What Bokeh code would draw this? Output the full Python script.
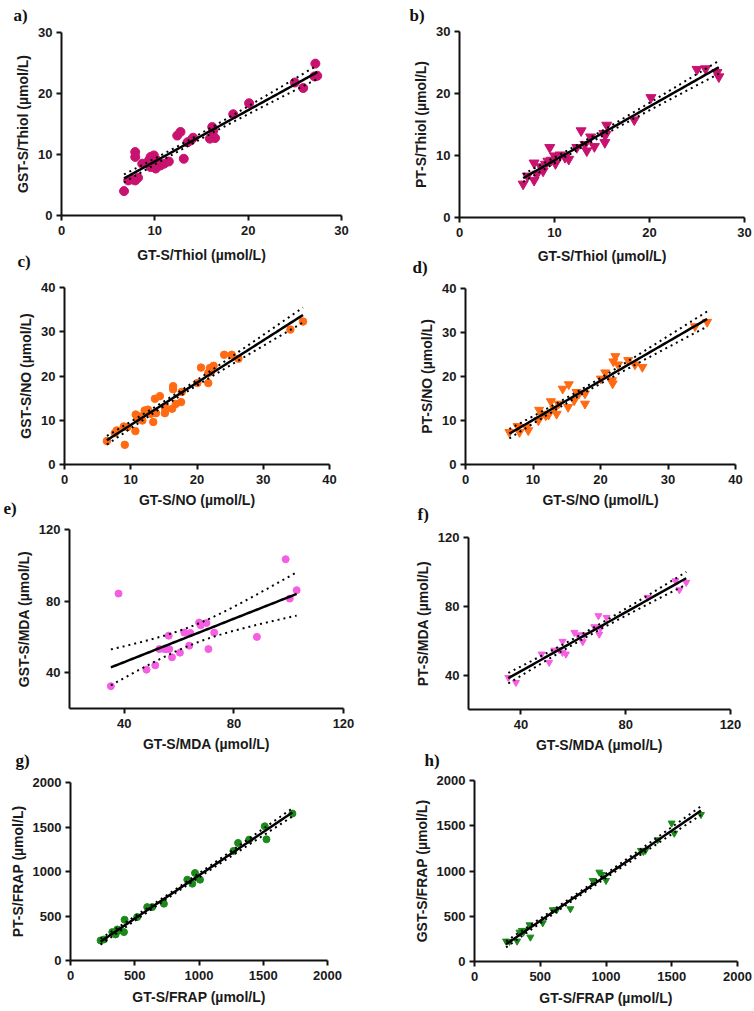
import numpy as np
from bokeh.plotting import figure
from bokeh.layouts import column, row
from bokeh.models import Range1d, FixedTicker, Title
from bokeh.embed import file_html
from bokeh.resources import INLINE

# ---------------- data ----------------
a_x = [6.7, 7.15, 7.6, 7.9, 7.9, 7.9, 8.2, 8.65, 9.2, 9.4, 9.55, 9.55, 9.7, 9.8, 9.9, 10.0, 10.1, 10.26,
       10.6, 11.0, 11.5, 12.4, 12.75, 13.1, 13.5, 13.85, 14.1, 15.9, 16.15, 16.25, 16.45, 18.4, 20.1,
       25.0, 25.9, 27.1, 27.2, 27.4]
a_y = [4.0, 5.75, 5.9, 10.4, 9.6, 5.75, 6.2, 8.5, 8.65, 9.1, 9.6, 7.95, 8.5, 9.1, 9.85, 7.95, 7.7, 9.0,
       8.2, 8.5, 8.85, 13.1, 13.7, 9.3, 12.0, 12.3, 12.75, 12.6, 14.5, 13.85, 12.7, 16.6, 18.4,
       21.8, 20.9, 22.8, 24.9, 22.9]

b_x = [6.7, 7.15, 7.85, 7.85, 8.15, 8.55, 8.8, 9.05, 9.3, 9.5, 9.65, 10.0, 10.1, 10.6, 11.1, 11.5,
       12.35, 12.8, 13.2, 13.4, 13.8, 14.2, 15.2, 15.3, 15.4, 15.5, 18.4, 20.15, 25.0, 25.9, 27.1, 27.3]
b_y = [5.4, 6.7, 6.0, 8.8, 7.0, 8.2, 7.5, 8.6, 9.1, 11.3, 9.25, 9.95, 8.7, 10.1, 9.7, 9.4,
       11.3, 14.0, 11.8, 10.75, 13.0, 11.45, 13.55, 12.1, 13.4, 14.9, 15.75, 19.35, 23.9, 24.0, 23.4, 22.7]

c_x = [6.4, 7.6, 7.9, 9.1, 8.95, 9.5, 10.7, 10.75, 11.0, 11.35, 11.75, 12.1, 12.6, 13.0, 13.4, 13.65,
       13.8, 14.4, 15.15, 15.25, 15.15, 16.25, 16.4, 16.4, 16.8, 17.6, 17.7, 20.05, 20.6, 21.7, 21.7,
       21.95, 22.5, 22.1, 24.1, 25.25, 26.25, 34.1, 36.0]
c_y = [5.3, 7.1, 7.7, 4.45, 8.6, 8.45, 7.55, 11.3, 10.3, 10.85, 9.95, 12.2, 12.4, 11.45, 9.6, 14.85,
       11.6, 15.45, 13.0, 12.2, 11.6, 12.6, 17.7, 17.0, 13.7, 14.1, 16.4, 18.4, 21.9, 18.4, 20.7,
       21.8, 22.3, 20.9, 24.8, 24.8, 23.9, 30.5, 32.3]

d_x = [6.5, 7.7, 8.0, 9.05, 9.3, 10.8, 10.9, 11.4, 11.9, 12.3, 12.65, 13.15, 13.5, 13.8, 14.4, 15.3,
       15.2, 16.1, 16.45, 16.8, 17.7, 17.7, 20.05, 20.7, 21.7, 21.8, 21.9, 22.2, 22.6, 24.1, 25.1,
       26.2, 34.0, 35.8]
d_y = [7.35, 8.7, 7.35, 8.5, 7.75, 10.0, 12.4, 11.5, 11.15, 11.3, 14.35, 12.65, 11.5, 13.8, 17.2, 18.2,
       13.05, 14.55, 16.45, 16.1, 16.1, 13.8, 19.5, 20.9, 19.1, 18.4, 23.4, 24.6, 22.7, 23.7, 22.7,
       22.15, 31.4, 32.4]

e_x = [35.1, 37.9, 48.1, 51.3, 52.8, 54.6, 55.4, 56.2, 56.4, 57.4, 60.3, 61.9, 63.7, 64.1, 67.3, 67.9,
       70.0, 70.7, 72.8, 88.4, 98.9, 100.4, 102.9]
e_y = [32.5, 84.2, 41.7, 44.1, 53.2, 53.2, 53.2, 60.7, 53.2, 48.6, 51.2, 62.4, 55.1, 62.2, 68.0, 66.5,
       67.8, 53.2, 62.4, 60.0, 103.4, 81.4, 86.1]

f_x = [35.2, 38.1, 47.9, 50.8, 52.7, 54.6, 55.9, 55.9, 57.2, 60.4, 61.7, 63.6, 64.2, 68.0, 69.6, 69.9,
       70.3, 72.7, 88.4, 99.0, 100.5, 103.1]
f_y = [38.6, 35.7, 52.2, 47.4, 54.5, 54.7, 59.6, 53.2, 52.2, 64.8, 63.4, 59.4, 63.4, 68.1, 74.5, 63.8,
       67.3, 73.5, 85.2, 94.8, 89.6, 93.9]

g_x = [234, 260, 325, 351, 364, 377, 416, 421, 519, 597, 636, 727, 909, 948, 969, 1008, 1268, 1304,
       1390, 1512, 1525, 1727]
g_y = [225, 236, 319, 293, 349, 338, 319, 458, 488, 600, 600, 638, 908, 863, 983, 908, 1231, 1321,
       1358, 1508, 1362, 1651]

h_x = [240, 266, 324, 342, 360, 372, 380, 418, 425, 519, 595, 625, 729, 899, 949, 967, 1000, 1266,
       1284, 1299, 1392, 1499, 1519, 1722]
h_y = [225, 221, 225, 324, 343, 324, 343, 405, 269, 427, 571, 571, 582, 895, 987, 961, 895, 1227,
       1215, 1227, 1344, 1529, 1418, 1624]

thiol_ticks = [0, 10, 20, 30]
no_ticks = [0, 10, 20, 30, 40]
mda_ticks = [40, 80, 120]
frap_ticks = [0, 500, 1000, 1500, 2000]

x_titles = {"thiol": "GT-S/Thiol (µmol/L)", "no": "GT-S/NO (µmol/L)",
            "mda": "GT-S/MDA (µmol/L)", "frap": "GT-S/FRAP (µmol/L)"}
y_titles = ["GST-S/Thiol (µmol/L)", "PT-S/Thiol (µmol/L)", "GST-S/NO (µmol/L)", "PT-S/NO (µmol/L)",
            "GST-S/MDA (µmol/L)", "PT-S/MDA (µmol/L)", "PT-S/FRAP (µmol/L)", "GST-S/FRAP (µmol/L)"]
panel_letters = ["a)", "b)", "c)", "d)", "e)", "f)", "g)", "h)"]

C_MAG = "#C9126F"
C_ORA = "#FF6A13"
C_PNK = "#F55DE2"
C_GRN = "#1B8A1B"

SANS = "Liberation Sans"
SERIF = "Liberation Serif"
LETTER_PX = 17
LETTER_H = 19          # laid-out height of the letter line
LETTER_MID = 10.9      # glyph centre below the line's top

TICK_OUT, XLAB_SO = 5, 5
TICKLAB_H, AXTITLE_H = 14.5, 15.6


def tcrit(df):
    z = 1.959964
    g1 = (z ** 3 + z) / 4
    g2 = (5 * z ** 5 + 16 * z ** 3 + 3 * z) / 96
    g3 = (3 * z ** 7 + 19 * z ** 5 + 17 * z ** 3 - 15 * z) / 384
    return z + g1 / df + g2 / df ** 2 + g3 / df ** 3


def style_axis(ax, lab_standoff, title_standoff):
    ax.axis_line_width = 2
    ax.axis_line_color = "#111111"
    ax.major_tick_line_width = 2
    ax.major_tick_line_color = "#111111"
    ax.major_tick_out = TICK_OUT
    ax.major_tick_in = 0
    ax.minor_tick_line_color = None
    ax.major_label_text_font = SANS
    ax.major_label_text_font_style = "bold"
    ax.major_label_text_font_size = "13px"
    ax.major_label_text_color = "#1a1a1a"
    ax.axis_label_text_font = SANS
    ax.axis_label_text_font_style = "bold"
    ax.axis_label_text_font_size = "14px"
    ax.axis_label_text_color = "#1a1a1a"
    ax.major_label_standoff = lab_standoff
    ax.axis_label_standoff = title_standoff


def letter_title(text, x_left, fl, standoff, valign):
    return Title(text=text, align="left", vertical_align=valign, offset=x_left - fl,
                 standoff=standoff, text_font=SERIF, text_font_style="bold",
                 text_font_size=f"{LETTER_PX}px", text_color="#111111")


def make_panel(xs, ys, xr, yr, ticks, xtitle, ytitle, marker, color, size,
               cell, frame, x_title_so, top_letter=None, below_letter=None):
    X0, Y0, W, H = cell
    fl, ft, fr, fb = frame
    p = figure(width=W, height=H, x_range=Range1d(*xr), y_range=Range1d(*yr),
               output_backend="svg", toolbar_location=None, title=None,
               min_border_left=fl - X0, min_border_right=X0 + W - fr,
               min_border_top=ft - Y0, min_border_bottom=Y0 + H - fb)
    p.outline_line_color = None
    p.xgrid.grid_line_color = None
    p.ygrid.grid_line_color = None
    p.background_fill_color = "white"
    p.border_fill_color = "white"
    p.xaxis.ticker = FixedTicker(ticks=ticks)
    p.yaxis.ticker = FixedTicker(ticks=ticks)
    p.xaxis.axis_label = xtitle
    p.yaxis.axis_label = ytitle
    style_axis(p.xaxis[0], XLAB_SO, x_title_so)
    style_axis(p.yaxis[0], 4, 4)

    p.scatter(xs, ys, marker=marker, size=size, fill_color=color, line_color=color)

    # linear regression with 95% confidence band
    x = np.asarray(xs, float)
    y = np.asarray(ys, float)
    n = len(x)
    slope, icpt = np.polyfit(x, y, 1)
    xx = np.linspace(x.min(), x.max(), 80)
    yy = icpt + slope * xx
    res = y - (icpt + slope * x)
    s = np.sqrt(np.sum(res ** 2) / (n - 2))
    sxx = np.sum((x - x.mean()) ** 2)
    se = s * np.sqrt(1.0 / n + (xx - x.mean()) ** 2 / sxx)
    t = tcrit(n - 2)
    p.line(xx, yy + t * se, line_color="black", line_width=2, line_dash="2 4")
    p.line(xx, yy - t * se, line_color="black", line_width=2, line_dash="2 4")
    p.line(xx, yy, line_color="black", line_width=2.5)

    # letter of this panel, in the top margin (first row only)
    if top_letter is not None:
        txt, lx = top_letter
        so = max((ft - Y0) - 2 - LETTER_H, 0)
        p.add_layout(letter_title(txt, lx, fl, so, "top"), "above")
    # letter of the panel underneath, drawn beside this panel's x-axis title
    if below_letter is not None:
        txt, lx, cy = below_letter
        axis_bottom = fb + TICK_OUT + XLAB_SO + TICKLAB_H + x_title_so + AXTITLE_H
        so = 2 * ((cy - LETTER_MID) - axis_bottom)
        p.add_layout(letter_title(txt, lx, fl, so, "top"), "below")
    return p


B1, B2, B3, END = 277, 523, 772, 1011
LW, RW = 400, 354

pa = make_panel(a_x, a_y, (0, 30), (0, 30), thiol_ticks, x_titles["thiol"], y_titles[0],
                "circle", C_MAG, 9, (0, 0, LW, B1), (61, 32, 341, 215), 9,
                top_letter=(panel_letters[0], 13), below_letter=(panel_letters[2], 17, 261))
pb = make_panel(b_x, b_y, (0, 30), (0, 30), thiol_ticks, x_titles["thiol"], y_titles[1],
                "inverted_triangle", C_MAG, 10, (LW, 0, RW, B1), (459, 31, 744, 217), 8,
                top_letter=(panel_letters[1], 409), below_letter=(panel_letters[3], 412, 267))
pc = make_panel(c_x, c_y, (0, 40), (0, 40), no_ticks, x_titles["no"], y_titles[2],
                "circle", C_ORA, 7.5, (0, B1, LW, B2 - B1), (64, 287, 329, 464), 5,
                below_letter=(panel_letters[4], 3, 508))
pd_ = make_panel(d_x, d_y, (0, 40), (0, 40), no_ticks, x_titles["no"], y_titles[3],
                 "inverted_triangle", C_ORA, 9, (LW, B1, RW, B2 - B1), (465, 288, 735, 464), 5,
                 below_letter=(panel_letters[5], 417, 514))
pe = make_panel(e_x, e_y, (20, 120), (20, 120), mda_ticks, x_titles["mda"], y_titles[4],
                "circle", C_PNK, 7, (0, B2, LW, B3 - B2), (69, 529, 343, 708), 5,
                below_letter=(panel_letters[6], 15, 760))
pf = make_panel(f_x, f_y, (20, 120), (20, 120), mda_ticks, x_titles["mda"], y_titles[5],
                "inverted_triangle", C_PNK, 7, (LW, B2, RW, B3 - B2), (468, 537, 730, 709), 5,
                below_letter=(panel_letters[7], 424, 760))
pg = make_panel(g_x, g_y, (0, 2000), (0, 2000), frap_ticks, x_titles["frap"], y_titles[6],
                "circle", C_GRN, 7, (0, B3, LW, END - B3), (70, 782, 327, 960), 6)
ph = make_panel(h_x, h_y, (0, 2000), (0, 2000), frap_ticks, x_titles["frap"], y_titles[7],
                "inverted_triangle", C_GRN, 7, (LW, B3, RW, END - B3), (474, 780, 737, 961), 6)

# each figure sits in its own column so that a row does not force equal borders
layout = column(
    row(column(pa), column(pb)),
    row(column(pc), column(pd_)),
    row(column(pe), column(pf)),
    row(column(pg), column(ph)),
)

with open("out.html", "w") as fh:
    fh.write(file_html(layout, INLINE))
